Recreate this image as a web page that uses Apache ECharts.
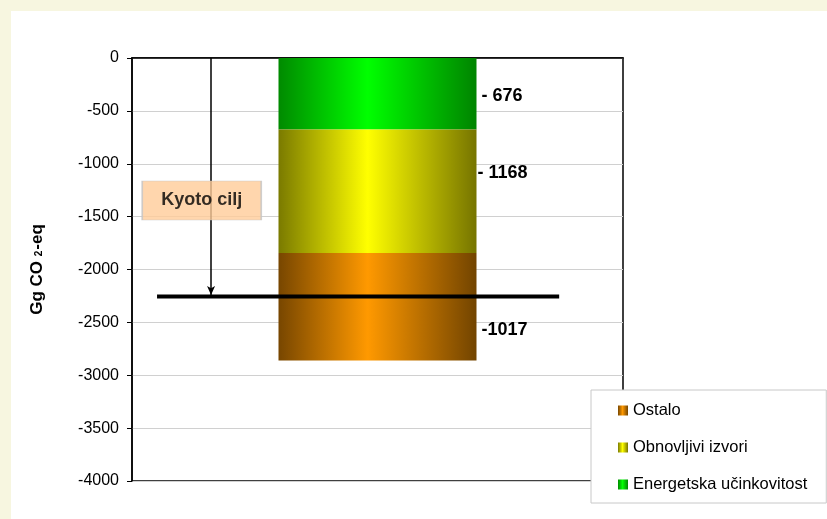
<!DOCTYPE html>
<html>
<head>
<meta charset="utf-8">
<script src="https://cdn.jsdelivr.net/npm/echarts@6/dist/echarts.min.js"></script>
<style>
  html, body { margin: 0; padding: 0; }
  #outer { position: relative; width: 827px; height: 519px; background: #f7f6e0; overflow: hidden; }
  #chart { position: absolute; left: 11px; top: 11px; width: 816px; height: 508px; background: #ffffff; }
</style>
</head>
<body>
<div id="outer"><div id="chart"></div></div>
<script>
// ---- data ----
const categories = ['Mjere'];
const seriesNames = ['Energetska učinkovitost', 'Obnovljivi izvori', 'Ostalo'];
const seriesValues = [[-676], [-1168], [-1017]];
const valueLabels = ['- 676', '- 1168', '-1017'];
const legendOrder = ['Ostalo', 'Obnovljivi izvori', 'Energetska učinkovitost'];
const kyotoTarget = -2255;
const kyotoText = 'Kyoto cilj';
const yTicks = { min: -4000, max: 0, interval: 500 };

// ---- styling ----
function grad(edge, center, edge2) {
  return new echarts.graphic.LinearGradient(0, 0, 1, 0, [
    { offset: 0, color: edge },
    { offset: 0.45, color: center },
    { offset: 1, color: edge2 }
  ]);
}
const fills = [
  grad('#008a00', '#00ff00', '#008400'),
  grad('#7a7a00', '#ffff00', '#767400'),
  grad('#774600', '#ff9900', '#724400')
];
const labelOffsets = [[0, 2], [-4, -18], [0, 23]];

const chart = echarts.init(document.getElementById('chart'), null, { renderer: 'canvas' });

const barSeries = seriesNames.map((name, i) => ({
  name: name,
  type: 'bar',
  stack: 'total',
  barWidth: 198,
  xAxisIndex: 0,
  yAxisIndex: 0,
  data: seriesValues[i],
  itemStyle: { color: fills[i] },
  label: {
    show: true,
    position: 'right',
    distance: 5,
    offset: labelOffsets[i],
    formatter: () => valueLabels[i],
    color: '#000',
    fontFamily: 'Liberation Sans, Arial, sans-serif',
    fontWeight: 'bold',
    fontSize: 18
  },
  z: 2
}));

const option = {
  animation: false,
  backgroundColor: 'transparent',
  textStyle: { fontFamily: 'Liberation Sans, Arial, sans-serif' },
  grid: {
    left: 121, top: 47, right: 204, bottom: 38,
    show: true, borderColor: '#000', borderWidth: 1.5, backgroundColor: 'transparent'
  },
  legend: {
    orient: 'vertical',
    left: 580, top: 379,
    data: legendOrder,
    icon: 'rect',
    itemWidth: 10, itemHeight: 10,
    itemGap: 20,
    padding: [12, 19, 10, 27],
    backgroundColor: '#fff',
    borderColor: '#c8c8c8',
    borderWidth: 1,
    selectedMode: false,
    textStyle: { color: '#000', fontSize: 16.5, lineHeight: 14 }
  },
  xAxis: [
    {
      type: 'category', data: categories,
      axisLine: { show: true, lineStyle: { color: '#000', width: 1.5 } },
      axisTick: { show: false }, axisLabel: { show: false }, splitLine: { show: false }
    },
    {
      type: 'value', min: 0, max: 100, show: false
    }
  ],
  yAxis: {
    type: 'value',
    min: yTicks.min, max: yTicks.max, interval: yTicks.interval,
    name: '{a|Gg CO }{s|2}{a|-eq}',
    nameLocation: 'middle',
    nameRotate: 90,
    nameGap: 86,
    nameTextStyle: {
      rich: {
        a: { fontSize: 17, fontWeight: 'bold', color: '#000' },
        s: { fontSize: 10, fontWeight: 'bold', color: '#000', padding: [4, 1, 0, 0] }
      }
    },
    axisLine: { show: true, lineStyle: { color: '#000', width: 1.5 } },
    axisTick: { show: true, length: 5, inside: false, lineStyle: { color: '#000' } },
    axisLabel: { color: '#000', fontSize: 16, margin: 13, formatter: (v) => String(v) },
    splitLine: { show: true, lineStyle: { color: '#d0d0d0', width: 1 } }
  },
  series: [
    ...barSeries,
    {
      name: 'kyoto',
      type: 'line',
      xAxisIndex: 1,
      yAxisIndex: 0,
      data: [[5.1, kyotoTarget], [87, kyotoTarget]],
      symbol: 'none',
      lineStyle: { color: '#000', width: 4 },
      z: 5,
      markLine: {
        silent: true,
        symbol: ['none', 'arrow'],
        symbolSize: [6, 9],
        label: { show: false },
        lineStyle: { color: '#000', width: 1.5, type: 'solid' },
        data: [[{ coord: [16.1, 0] }, { coord: [16.1, kyotoTarget + 15] }]]
      }
    },
    {
      name: 'kyotoLabel',
      type: 'scatter',
      xAxisIndex: 1,
      yAxisIndex: 0,
      data: [[14.2, -1347]],
      symbol: 'rect',
      symbolSize: [119, 39],
      itemStyle: { color: '#ffcc99', borderColor: '#c4c4c4', borderWidth: 1 },
      label: {
        show: true, position: 'inside',
        formatter: () => kyotoText,
        color: '#000', fontWeight: 'bold', fontSize: 18,
        fontFamily: 'Liberation Sans, Arial, sans-serif'
      },
      z: 10
    }
  ]
};
chart.setOption(option);
</script>
</body>
</html>
